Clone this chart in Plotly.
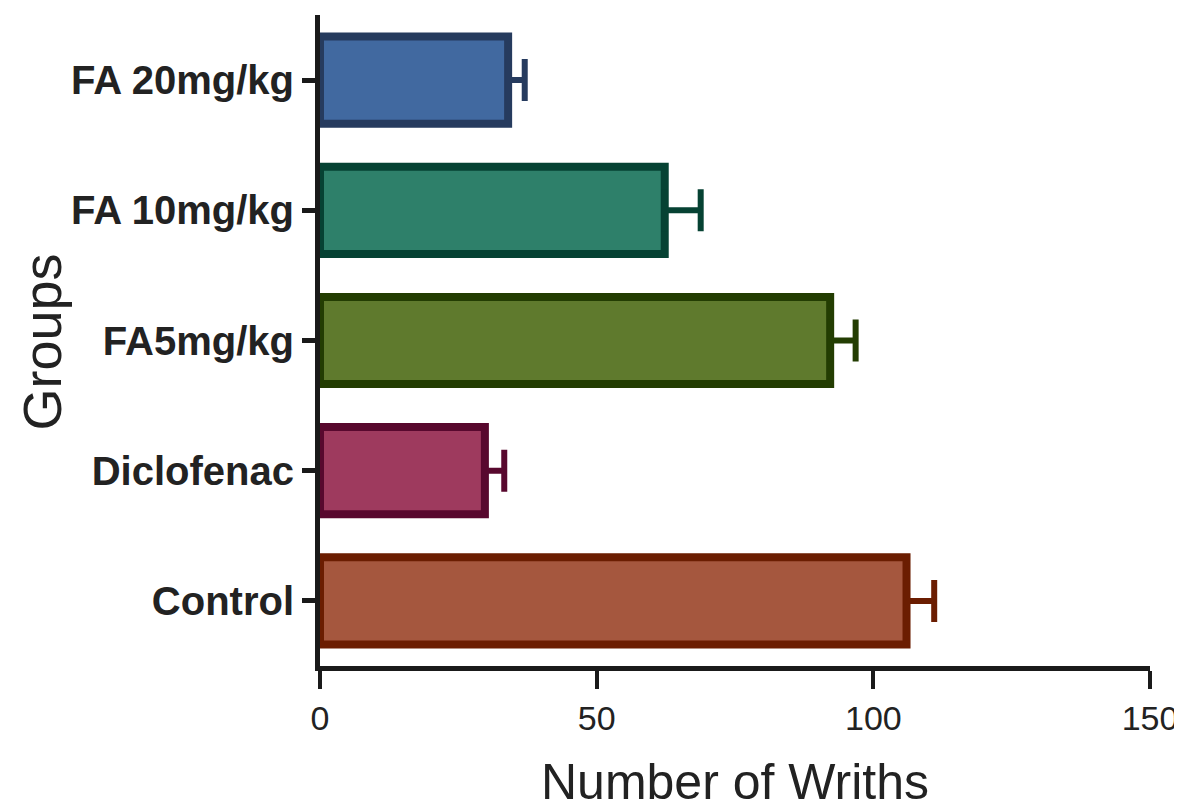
import plotly.graph_objects as go

groups = ["Control", "Diclofenac", "FA5mg/kg", "FA 10mg/kg", "FA 20mg/kg"]
writhes = [106.0, 29.8, 92.2, 62.3, 34.0]
sem = [5.0, 3.5, 4.6, 6.5, 3.0]
fill_colors = ["#A5573E", "#9E3A5E", "#5F7A2D", "#2E806A", "#4169A0"]
edge_colors = ["#6B1D01", "#58082E", "#233D02", "#064233", "#263B5E"]
x_ticks = [0, 50, 100, 150]

fig = go.Figure()
for g, v, e, fc, ec in zip(groups, writhes, sem, fill_colors, edge_colors):
    fig.add_trace(go.Bar(
        y=[g], x=[v], orientation="h", width=0.67,
        marker=dict(color=fc, line=dict(color=ec, width=8)),
        error_x=dict(type="data", array=[e], symmetric=False, arrayminus=[0],
                     color=ec, thickness=6, width=21),
        showlegend=False,
    ))

fig.update_layout(
    width=1174, height=802,
    barmode="overlay",
    paper_bgcolor="white", plot_bgcolor="white",
    margin=dict(l=312, r=32, t=7, b=144, autoexpand=False),
    font=dict(family="Liberation Sans, Arial, sans-serif", color="#222222"),
)
fig.update_xaxes(
    range=[0, 150], tickvals=x_ticks, ticktext=[str(t) for t in x_ticks],
    automargin=False,
    showgrid=False, zeroline=False,
    showline=True, linecolor="#1a1a1a", linewidth=5,
    ticks="outside", ticklen=18, tickwidth=4, tickcolor="#1a1a1a",
    tickfont=dict(size=34, color="#222222"),
    title=dict(text="Number of Wriths", font=dict(size=50, color="#222222"), standoff=48),
)
fig.update_yaxes(
    type="category", categoryorder="array", categoryarray=groups,
    range=[-0.5, 4.5],
    automargin=False,
    showgrid=False, zeroline=False,
    showline=True, linecolor="#1a1a1a", linewidth=5,
    ticks="outside", ticklen=13, tickwidth=5, tickcolor="#1a1a1a",
    tickfont=dict(size=40, color="#222222", weight="bold"),
)
fig.add_annotation(
    text="Groups", textangle=-90, showarrow=False,
    xref="paper", yref="paper", x=0, y=0.5,
    xanchor="center", yanchor="middle", xshift=-279, yshift=-2,
    font=dict(size=54, color="#222222"),
)

fig.write_html("out.html")
